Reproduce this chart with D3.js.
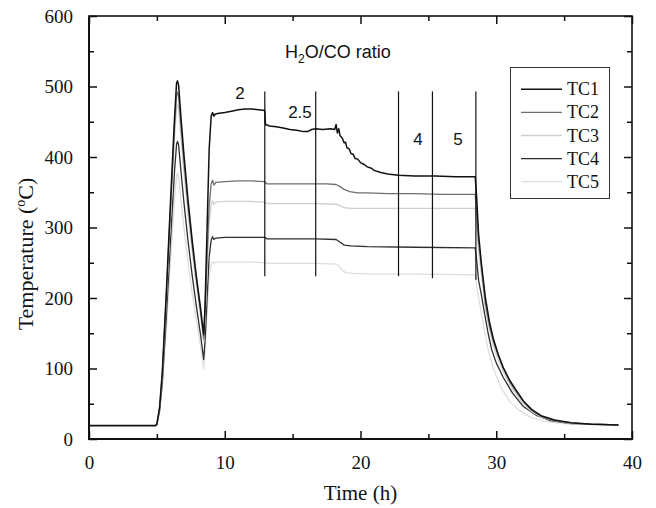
<!DOCTYPE html>
<html>
<head>
<meta charset="utf-8">
<script src="https://cdn.jsdelivr.net/npm/d3@7"></script>
<style>
html,body{margin:0;padding:0;background:#fff;}
svg{display:block;}
.serif{font-family:"Liberation Serif","Times New Roman","DejaVu Serif",serif;}
.sans{font-family:"Liberation Sans",Arial,"DejaVu Sans",sans-serif;}
</style>
</head>
<body>
<svg id="chart" width="656" height="508"></svg>
<script>
// ---------------- DATA ----------------
const seriesNames = ["TC1","TC2","TC3","TC4","TC5"];
const seriesColors = ["#111111","#6e6e6e","#cfcfcf","#2e2e2e","#dedede"];
const seriesWidths = [1.5,1.3,1.3,1.3,1.3];

const tc1 = [[0,19],[2,19],[4.9,19],[5.0,21],[5.2,45],[5.4,95],[5.7,210],[6.0,335],[6.3,455],[6.45,505],[6.52,508],[6.6,502],[6.8,450],[7.0,402],[7.3,338],[7.6,282],[7.9,232],[8.2,188],[8.45,148],[8.55,190],[8.7,300],[8.85,410],[9.0,458],[9.1,463],[9.2,458],[9.3,461],[9.6,462],[10,463],[10.5,465],[11,467],[11.5,468],[12,468],[12.5,467],[12.95,466],[13.0,446],[13.3,444],[13.8,443],[14.3,441],[14.8,439],[15.3,438],[15.8,436],[16.1,436],[16.4,439],[16.7,440],[17.2,439],[17.8,440],[18.1,439],[18.2,446],[18.3,434],[18.4,440],[18.5,430],[18.65,427],[18.8,420],[18.9,421],[19.0,413],[19.15,412],[19.3,405],[19.45,404],[19.6,398],[19.8,397],[20,392],[20.3,389],[20.5,386],[20.8,384],[21,381],[21.5,378],[22,376],[22.8,374],[24,373],[25.5,373],[27,372],[28.45,372],[28.55,345],[28.7,290],[28.9,250],[29.2,200],[29.5,166],[29.8,141],[30.15,120],[30.5,102],[31,83],[31.4,71],[32,54],[32.6,42],[33.3,33],[34.3,27],[35.5,23],[37,21],[39,20]];
const tc2 = [[0,19],[4.9,19],[5.0,21],[5.2,44],[5.4,92],[5.7,205],[6.0,326],[6.3,443],[6.45,488],[6.52,492],[6.6,486],[6.8,438],[7.0,392],[7.3,330],[7.6,276],[7.9,228],[8.2,184],[8.45,142],[8.55,180],[8.7,260],[8.85,330],[9.0,362],[9.1,367],[9.2,360],[9.35,364],[10,365],[11,366],[12,366],[12.95,365],[13.1,362],[14,362],[15,362],[16,362],[16.7,362],[17.5,362],[18.2,361],[18.5,358],[18.8,354],[19.2,351],[19.8,349],[20.5,349],[22,348],[24,348],[26,347],[28.45,347],[28.55,325],[28.7,280],[28.9,245],[29.2,193],[29.5,161],[29.8,138],[30.1,121],[30.5,101],[31,81],[31.4,69],[32,53],[32.6,41],[33.3,32],[34.3,26],[35.5,23],[37,21],[39,20]];
const tc3 = [[0,19],[4.9,19],[5.0,21],[5.2,42],[5.4,88],[5.7,198],[6.0,315],[6.3,428],[6.45,470],[6.52,474],[6.6,468],[6.8,422],[7.0,378],[7.3,318],[7.6,266],[7.9,220],[8.2,178],[8.45,138],[8.55,170],[8.7,240],[8.85,305],[9.0,333],[9.1,338],[9.2,333],[9.35,336],[10,337],[11,337],[12,337],[12.95,336],[13.1,334],[15,334],[16.7,334],[18.2,333],[18.5,331],[18.8,328],[19.3,327],[20.5,327],[24,327],[28.45,327],[28.55,305],[28.7,265],[28.9,235],[29.2,185],[29.5,155],[29.8,132],[30.1,115],[30.5,96],[31,77],[31.4,65],[32,50],[32.6,39],[33.3,31],[34.3,26],[35.5,22],[37,21],[39,20]];
const tc4 = [[0,19],[4.9,19],[5.0,21],[5.2,40],[5.4,80],[5.7,175],[6.0,280],[6.3,380],[6.45,418],[6.52,422],[6.6,417],[6.8,375],[7.0,334],[7.3,280],[7.6,232],[7.9,190],[8.2,150],[8.45,113],[8.55,140],[8.7,200],[8.85,258],[9.0,282],[9.1,287],[9.2,283],[9.35,285],[10,286],[11,286],[12,286],[12.95,286],[13.1,284],[15,284],[16.7,284],[18.2,283],[18.5,279],[18.8,275],[19.3,274],[20.5,273],[24,272],[28.45,271],[28.55,255],[28.7,225],[28.9,205],[29.1,182],[29.4,150],[29.66,127],[30,108],[30.5,88],[31.2,65],[32,46],[33,33],[34,26],[35.5,22],[37,21],[39,20]];
const tc5 = [[0,19],[4.9,19],[5.0,21],[5.2,38],[5.4,72],[5.7,155],[6.0,250],[6.3,340],[6.45,373],[6.52,377],[6.6,372],[6.8,335],[7.0,298],[7.3,250],[7.6,207],[7.9,170],[8.2,134],[8.45,100],[8.55,125],[8.7,180],[8.85,228],[9.0,248],[9.1,252],[9.2,249],[9.35,251],[10,251],[11,251],[12,251],[12.95,250],[13.1,249],[15,249],[16.7,249],[18.2,248],[18.4,246],[18.6,240],[18.9,236],[19.5,235],[21,234],[24,234],[28.45,233],[28.55,218],[28.7,200],[28.9,180],[29.1,157],[29.4,127],[29.8,99],[30.4,71],[31,53],[31.6,42],[32.5,31],[33.5,25],[35,22],[37,20.5],[39,20]];

const xMajorTicks = [0,10,20,30,40];
const xMinorTicks = [5,15,25,35];
const yMajorTicks = [0,100,200,300,400,500,600];
const yMinorTicks = [50,150,250,350,450,550];

// H2O/CO ratio change markers (time, h) and their extent (deg C)
const markerTimes = [12.95,16.7,22.8,25.3,28.5];
const markerTop = [493,493,493,493,493];
const markerBottom = [231,231,231,228,226];
const ratioLabels = ["2","2.5","4","5"];
const ratioLabelT = [11.12,15.54,24.24,27.18];
const ratioLabelV = [482,455,417,417];

// ---------------- CHART ----------------
const svg = d3.select("#chart");
const L = 89, R = 632, T = 16, B = 439;
const x = d3.scaleLinear().domain([0,40]).range([L,R]);
const y = d3.scaleLinear().domain([0,600]).range([B,T]);

svg.append("defs").append("clipPath").attr("id","clip")
  .append("rect").attr("x",L).attr("y",T).attr("width",R-L).attr("height",B-T);

const allSeries = [tc1,tc2,tc3,tc4,tc5];
const line = d3.line().x(d=>x(d[0])).y(d=>y(d[1]));
const gLines = svg.append("g").attr("clip-path","url(#clip)");
for (let i = allSeries.length-1; i >= 0; i--) {
  gLines.append("path").datum(allSeries[i])
    .attr("d", line).attr("fill","none")
    .attr("stroke", seriesColors[i]).attr("stroke-width", seriesWidths[i])
    .attr("stroke-linejoin","round");
}

// markers
svg.append("g").selectAll("line").data(markerTimes).join("line")
  .attr("x1",d=>x(d)).attr("x2",d=>x(d))
  .attr("y1",(d,i)=>y(markerTop[i])).attr("y2",(d,i)=>y(markerBottom[i]))
  .attr("stroke","#111").attr("stroke-width",1.2);

svg.append("g").selectAll("text").data(ratioLabels).join("text")
  .attr("class","sans")
  .attr("x",(d,i)=>x(ratioLabelT[i])).attr("y",(d,i)=>y(ratioLabelV[i]))
  .attr("text-anchor","middle").style("font-size","17px")
  .attr("fill","#111").text(d=>d);

const title = svg.append("text").attr("class","sans").attr("x",285).attr("y",58)
  .style("font-size","18px").attr("fill","#111");
title.append("tspan").text("H");
title.append("tspan").style("font-size","12px").attr("dy",5).text("2");
title.append("tspan").attr("dy",-5).text("O/CO ratio");

// axes
function styleAxis(g){
  g.attr("font-family",null).attr("font-size",null);
  g.select(".domain").remove();
  g.selectAll(".tick line").attr("stroke","#111").attr("stroke-width",1.5);
  g.selectAll(".tick text").attr("class","serif").style("font-size","19px").attr("fill","#111");
}
const xAxis = svg.append("g").attr("transform",`translate(0,${B})`)
  .call(d3.axisBottom(x).tickValues(xMajorTicks).tickSize(-8).tickPadding(17).tickFormat(d3.format("d")));
styleAxis(xAxis);
const xAxisMinor = svg.append("g").attr("transform",`translate(0,${B})`)
  .call(d3.axisBottom(x).tickValues(xMinorTicks).tickSize(-5).tickFormat(""));
styleAxis(xAxisMinor);
const xTop = svg.append("g").attr("transform",`translate(0,${T})`)
  .call(d3.axisTop(x).tickValues(xMajorTicks).tickSize(-8).tickFormat(""));
styleAxis(xTop);
const xTopMinor = svg.append("g").attr("transform",`translate(0,${T})`)
  .call(d3.axisTop(x).tickValues(xMinorTicks).tickSize(-5).tickFormat(""));
styleAxis(xTopMinor);

const yAxis = svg.append("g").attr("transform",`translate(${L},0)`)
  .call(d3.axisLeft(y).tickValues(yMajorTicks).tickSize(-8).tickPadding(16).tickFormat(d3.format("d")));
styleAxis(yAxis);
const yAxisMinor = svg.append("g").attr("transform",`translate(${L},0)`)
  .call(d3.axisLeft(y).tickValues(yMinorTicks).tickSize(-5).tickFormat(""));
styleAxis(yAxisMinor);
const yRight = svg.append("g").attr("transform",`translate(${R},0)`)
  .call(d3.axisRight(y).tickValues(yMajorTicks).tickSize(-8).tickFormat(""));
styleAxis(yRight);
const yRightMinor = svg.append("g").attr("transform",`translate(${R},0)`)
  .call(d3.axisRight(y).tickValues(yMinorTicks).tickSize(-5).tickFormat(""));
styleAxis(yRightMinor);

// frame
svg.append("rect").attr("x",L).attr("y",T).attr("width",R-L).attr("height",B-T)
  .attr("fill","none").attr("stroke","#111").attr("stroke-width",1.6);
svg.append("line").attr("x1",L).attr("x2",R+1).attr("y1",B).attr("y2",B).attr("stroke","#111").attr("stroke-width",2);
svg.append("line").attr("x1",L).attr("x2",L).attr("y1",T).attr("y2",B+1).attr("stroke","#111").attr("stroke-width",2);

// axis titles
svg.append("text").attr("class","serif").attr("x",(L+R)/2).attr("y",500).attr("text-anchor","middle")
  .style("font-size","21px").attr("fill","#111").text("Time (h)");
const yt = svg.append("text").attr("class","serif").attr("transform","translate(33,254) rotate(-90)")
  .attr("text-anchor","middle").style("font-size","22px").attr("fill","#111");
yt.append("tspan").text("Temperature (");
yt.append("tspan").style("font-size","14px").attr("dy",-8).text("o");
yt.append("tspan").attr("dy",8).text("C)");

// legend
const lg = svg.append("g");
lg.append("rect").attr("x",510.5).attr("y",67.5).attr("width",99).attr("height",131)
  .attr("fill","#fff").attr("stroke","#333").attr("stroke-width",1);
seriesNames.forEach((n,i)=>{
  const yy = 89.3 + i*23.1;
  lg.append("line").attr("x1",521).attr("x2",562).attr("y1",yy).attr("y2",yy)
    .attr("stroke",seriesColors[i]).attr("stroke-width",seriesWidths[i]);
  lg.append("text").attr("class","serif").attr("x",567).attr("y",yy+6)
    .style("font-size","18px").attr("fill","#111").text(n);
});
</script>
</body>
</html>
